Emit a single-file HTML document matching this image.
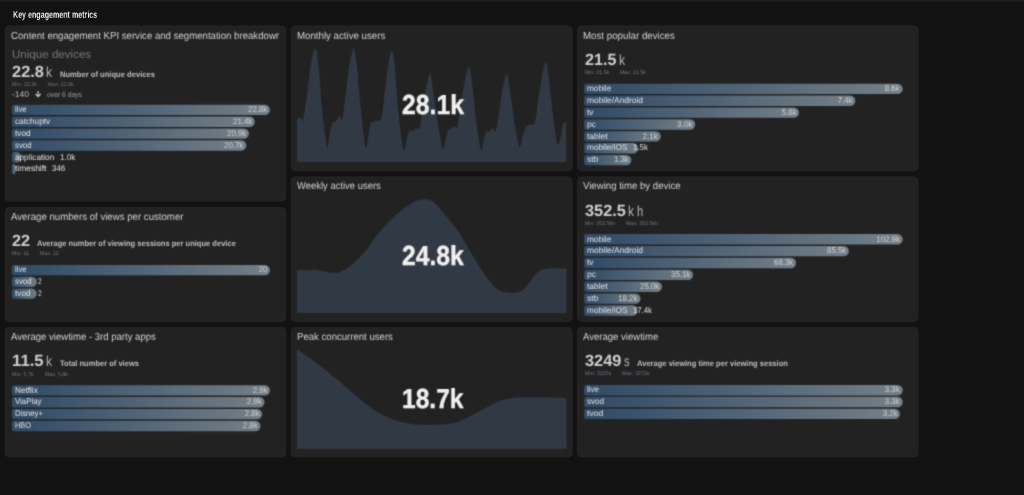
<!DOCTYPE html>
<html><head><meta charset="utf-8"><title>Key engagement metrics</title>
<style>
html,body{margin:0;padding:0}
body{width:1024px;height:495px;background:#121212;position:relative;overflow:hidden;font-family:"Liberation Sans",sans-serif}
#root{position:absolute;left:0;top:0;width:1024px;height:495px;will-change:transform;filter:url(#soft)}
.top{position:absolute;left:0;top:0;width:1024px;height:1.9px;background:#1d2229}
.card{position:absolute;background:#222222;border-radius:5px}
.t{position:absolute;white-space:nowrap;display:inline-block;text-rendering:geometricPrecision}
.bar{position:absolute;background:linear-gradient(90deg,#324d68 0%,#324d68 4%,#747f87 100%);border-radius:2px 5.2px 5.2px 2px}
</style></head><body>
<svg width="0" height="0" style="position:absolute"><filter id="soft" x="0" y="0" width="100%" height="100%" color-interpolation-filters="sRGB"><feConvolveMatrix order="3" kernelMatrix="0.0324 0.1152 0.0324 0.1152 0.4096 0.1152 0.0324 0.1152 0.0324" edgeMode="duplicate" preserveAlpha="true"/></filter></svg>
<div id="root"><div class="top"></div>
<svg style="position:absolute;left:0;top:0" width="1024" height="495" viewBox="0 0 1024 495"><defs><linearGradient id="bg" x1="0" y1="0" x2="1" y2="0"><stop offset="0" stop-color="#324d68"/><stop offset="0.04" stop-color="#324d68"/><stop offset="1" stop-color="#747f87"/></linearGradient></defs><rect x="4.5" y="24.9" width="282.10" height="177.00" rx="5.2" fill="#222222"/><rect x="4.5" y="206.7" width="282.10" height="115.50" rx="5.2" fill="#222222"/><rect x="4.5" y="326.6" width="282.10" height="131.20" rx="5.2" fill="#222222"/><rect x="290.4" y="24.9" width="282.60" height="146.70" rx="5.2" fill="#222222"/><rect x="290.4" y="176.0" width="282.60" height="146.20" rx="5.2" fill="#222222"/><rect x="290.4" y="326.6" width="282.60" height="131.20" rx="5.2" fill="#222222"/><rect x="576.7" y="24.9" width="342.30" height="146.70" rx="5.2" fill="#222222"/><rect x="576.7" y="176.0" width="342.30" height="146.20" rx="5.2" fill="#222222"/><rect x="576.7" y="326.6" width="342.30" height="131.20" rx="5.2" fill="#222222"/><path fill="url(#bg)" d="M14.20,104.70H264.80A5.20,5.20 0 0 1 264.80,115.10H14.20A2.30,2.30 0 0 1 11.90,112.80V107.00A2.30,2.30 0 0 1 14.20,104.70Z"/><path fill="url(#bg)" d="M14.20,116.55H249.60A5.20,5.20 0 0 1 249.60,126.95H14.20A2.30,2.30 0 0 1 11.90,124.65V118.85A2.30,2.30 0 0 1 14.20,116.55Z"/><path fill="url(#bg)" d="M14.20,128.40H243.80A5.20,5.20 0 0 1 243.80,138.80H14.20A2.30,2.30 0 0 1 11.90,136.50V130.70A2.30,2.30 0 0 1 14.20,128.40Z"/><path fill="url(#bg)" d="M14.20,140.25H241.20A5.20,5.20 0 0 1 241.20,150.65H14.20A2.30,2.30 0 0 1 11.90,148.35V142.55A2.30,2.30 0 0 1 14.20,140.25Z"/><path fill="url(#bg)" d="M14.20,152.10H16.30A5.20,5.20 0 0 1 16.30,162.50H14.20A2.30,2.30 0 0 1 11.90,160.20V154.40A2.30,2.30 0 0 1 14.20,152.10Z"/><path fill="url(#bg)" d="M13.70,163.95H13.70A1.80,5.20 0 0 1 13.70,174.35H13.70A1.80,1.80 0 0 1 11.90,172.55V165.75A1.80,1.80 0 0 1 13.70,163.95Z"/><path fill="url(#bg)" d="M14.20,264.90H264.80A5.20,5.20 0 0 1 264.80,275.30H14.20A2.30,2.30 0 0 1 11.90,273.00V267.20A2.30,2.30 0 0 1 14.20,264.90Z"/><path fill="url(#bg)" d="M14.20,276.65H31.70A5.20,5.20 0 0 1 31.70,287.05H14.20A2.30,2.30 0 0 1 11.90,284.75V278.95A2.30,2.30 0 0 1 14.20,276.65Z"/><path fill="url(#bg)" d="M14.20,288.40H31.50A5.20,5.20 0 0 1 31.50,298.80H14.20A2.30,2.30 0 0 1 11.90,296.50V290.70A2.30,2.30 0 0 1 14.20,288.40Z"/><path fill="url(#bg)" d="M14.20,385.20H264.80A5.20,5.20 0 0 1 264.80,395.60H14.20A2.30,2.30 0 0 1 11.90,393.30V387.50A2.30,2.30 0 0 1 14.20,385.20Z"/><path fill="url(#bg)" d="M14.20,397.05H259.30A5.20,5.20 0 0 1 259.30,407.45H14.20A2.30,2.30 0 0 1 11.90,405.15V399.35A2.30,2.30 0 0 1 14.20,397.05Z"/><path fill="url(#bg)" d="M14.20,408.90H257.00A5.20,5.20 0 0 1 257.00,419.30H14.20A2.30,2.30 0 0 1 11.90,417.00V411.20A2.30,2.30 0 0 1 14.20,408.90Z"/><path fill="url(#bg)" d="M14.20,420.75H255.30A5.20,5.20 0 0 1 255.30,431.15H14.20A2.30,2.30 0 0 1 11.90,428.85V423.05A2.30,2.30 0 0 1 14.20,420.75Z"/><path fill="url(#bg)" d="M586.40,83.70H897.60A5.20,5.20 0 0 1 897.60,94.10H586.40A2.30,2.30 0 0 1 584.10,91.80V86.00A2.30,2.30 0 0 1 586.40,83.70Z"/><path fill="url(#bg)" d="M586.40,95.57H850.20A5.20,5.20 0 0 1 850.20,105.97H586.40A2.30,2.30 0 0 1 584.10,103.67V97.87A2.30,2.30 0 0 1 586.40,95.57Z"/><path fill="url(#bg)" d="M586.40,107.44H793.80A5.20,5.20 0 0 1 793.80,117.84H586.40A2.30,2.30 0 0 1 584.10,115.54V109.74A2.30,2.30 0 0 1 586.40,107.44Z"/><path fill="url(#bg)" d="M586.40,119.31H690.00A5.20,5.20 0 0 1 690.00,129.71H586.40A2.30,2.30 0 0 1 584.10,127.41V121.61A2.30,2.30 0 0 1 586.40,119.31Z"/><path fill="url(#bg)" d="M586.40,131.18H655.60A5.20,5.20 0 0 1 655.60,141.58H586.40A2.30,2.30 0 0 1 584.10,139.28V133.48A2.30,2.30 0 0 1 586.40,131.18Z"/><path fill="url(#bg)" d="M586.40,143.05H633.00A5.20,5.20 0 0 1 633.00,153.45H586.40A2.30,2.30 0 0 1 584.10,151.15V145.35A2.30,2.30 0 0 1 586.40,143.05Z"/><path fill="url(#bg)" d="M586.40,154.92H626.20A5.20,5.20 0 0 1 626.20,165.32H586.40A2.30,2.30 0 0 1 584.10,163.02V157.22A2.30,2.30 0 0 1 586.40,154.92Z"/><path fill="url(#bg)" d="M586.40,234.10H897.60A5.20,5.20 0 0 1 897.60,244.50H586.40A2.30,2.30 0 0 1 584.10,242.20V236.40A2.30,2.30 0 0 1 586.40,234.10Z"/><path fill="url(#bg)" d="M586.40,245.97H843.70A5.20,5.20 0 0 1 843.70,256.37H586.40A2.30,2.30 0 0 1 584.10,254.07V248.27A2.30,2.30 0 0 1 586.40,245.97Z"/><path fill="url(#bg)" d="M586.40,257.84H790.90A5.20,5.20 0 0 1 790.90,268.24H586.40A2.30,2.30 0 0 1 584.10,265.94V260.14A2.30,2.30 0 0 1 586.40,257.84Z"/><path fill="url(#bg)" d="M586.40,269.71H687.90A5.20,5.20 0 0 1 687.90,280.11H586.40A2.30,2.30 0 0 1 584.10,277.81V272.01A2.30,2.30 0 0 1 586.40,269.71Z"/><path fill="url(#bg)" d="M586.40,281.58H656.80A5.20,5.20 0 0 1 656.80,291.98H586.40A2.30,2.30 0 0 1 584.10,289.68V283.88A2.30,2.30 0 0 1 586.40,281.58Z"/><path fill="url(#bg)" d="M586.40,293.45H635.30A5.20,5.20 0 0 1 635.30,303.85H586.40A2.30,2.30 0 0 1 584.10,301.55V295.75A2.30,2.30 0 0 1 586.40,293.45Z"/><path fill="url(#bg)" d="M586.40,305.32H632.50A5.20,5.20 0 0 1 632.50,315.72H586.40A2.30,2.30 0 0 1 584.10,313.42V307.62A2.30,2.30 0 0 1 586.40,305.32Z"/><path fill="url(#bg)" d="M586.40,385.00H897.60A5.20,5.20 0 0 1 897.60,395.40H586.40A2.30,2.30 0 0 1 584.10,393.10V387.30A2.30,2.30 0 0 1 586.40,385.00Z"/><path fill="url(#bg)" d="M586.40,396.85H897.60A5.20,5.20 0 0 1 897.60,407.25H586.40A2.30,2.30 0 0 1 584.10,404.95V399.15A2.30,2.30 0 0 1 586.40,396.85Z"/><path fill="url(#bg)" d="M586.40,408.70H894.80A5.20,5.20 0 0 1 894.80,419.10H586.40A2.30,2.30 0 0 1 584.10,416.80V411.00A2.30,2.30 0 0 1 586.40,408.70Z"/><path d="M297.0,162.1 L297.0,118.9 C297.3,118.7 298.3,117.5 299.1,117.4 C299.8,117.3 300.9,117.8 301.5,118.3 C302.2,118.9 302.2,124.2 303.0,120.8 C303.9,117.3 305.4,107.1 306.7,97.7 C308.0,88.3 309.4,72.6 310.9,64.4 C312.4,56.2 314.2,47.0 315.6,48.5 C317.0,50.0 318.2,63.8 319.2,73.5 C320.3,83.2 320.6,95.7 321.7,106.8 C322.8,117.9 324.8,133.3 325.8,140.2 C326.7,147.0 327.0,148.2 327.6,147.7 C328.2,147.2 328.7,140.9 329.4,137.1 C330.1,133.3 331.2,127.5 331.8,125.0 C332.5,122.5 332.7,122.5 333.3,122.0 C333.9,121.5 334.7,122.7 335.5,122.0 C336.2,121.2 337.2,118.4 337.9,117.4 C338.5,116.4 338.9,115.8 339.4,115.9 C339.9,116.1 340.4,117.8 340.9,118.3 C341.4,118.8 341.8,121.4 342.4,118.9 C343.0,116.5 343.4,112.4 344.5,103.8 C345.7,95.2 347.8,75.9 349.1,67.4 C350.4,58.9 351.3,56.0 352.1,52.9 C352.9,49.7 353.3,46.6 354.0,48.5 C354.8,50.4 355.6,55.2 356.7,64.4 C357.7,73.6 359.0,91.2 360.3,103.8 C361.6,116.4 363.3,132.8 364.2,140.2 C365.2,147.5 365.4,148.2 366.1,147.7 C366.7,147.2 367.5,140.9 368.2,137.1 C368.9,133.3 369.7,127.5 370.3,125.0 C370.9,122.5 371.2,122.4 371.8,122.0 C372.4,121.6 373.2,122.8 373.9,122.6 C374.7,122.3 375.6,120.8 376.4,120.5 C377.1,120.2 377.7,121.0 378.5,120.8 C379.2,120.5 380.3,120.3 380.9,118.9 C381.6,117.6 381.7,118.4 382.4,112.9 C383.2,107.3 384.3,94.7 385.5,85.6 C386.6,76.5 388.2,64.0 389.4,58.3 C390.6,52.7 391.6,50.7 392.4,51.7 C393.3,52.7 393.5,54.2 394.5,64.4 C395.6,74.6 397.2,99.7 398.5,112.9 C399.7,126.0 401.2,136.9 402.1,143.2 C403.1,149.5 403.5,151.3 404.2,150.8 C405.0,150.3 405.9,143.3 406.7,140.2 C407.4,137.0 408.0,133.3 408.8,131.7 C409.5,130.1 410.6,130.6 411.2,130.5 C411.9,130.4 412.1,131.2 412.7,131.1 C413.3,130.9 414.1,130.1 414.8,129.5 C415.6,129.0 416.6,128.0 417.3,128.0 C418.0,128.1 418.5,130.9 419.1,129.8 C419.7,128.8 419.9,127.8 420.9,122.0 C421.9,116.1 423.7,101.8 424.8,94.7 C426.0,87.6 426.9,83.1 427.9,79.5 C428.8,76.0 429.4,70.5 430.5,73.5 C431.5,76.5 432.7,88.6 434.1,97.7 C435.5,106.8 437.4,119.9 438.6,128.0 C439.9,136.1 440.9,142.7 441.7,146.2 C442.4,149.7 442.5,150.3 443.2,149.2 C443.8,148.2 444.8,143.2 445.6,140.2 C446.4,137.1 447.0,132.9 447.7,131.1 C448.4,129.2 449.1,129.5 449.8,128.9 C450.6,128.3 451.5,127.8 452.3,127.4 C453.1,127.0 454.0,126.4 454.7,126.5 C455.4,126.6 455.9,128.8 456.5,128.0 C457.1,127.3 457.5,126.5 458.3,122.0 C459.1,117.4 460.1,108.3 461.4,100.8 C462.6,93.2 464.6,82.1 465.9,76.5 C467.2,71.0 468.2,66.4 469.2,67.4 C470.3,68.4 470.9,74.0 472.0,82.6 C473.1,91.2 474.7,109.3 475.9,118.9 C477.1,128.5 478.0,134.8 478.9,140.2 C479.8,145.5 480.6,150.5 481.4,150.8 C482.1,151.0 482.8,144.7 483.5,141.7 C484.2,138.6 484.8,134.2 485.6,132.6 C486.4,130.9 487.3,131.9 488.0,131.7 C488.8,131.4 489.4,131.7 490.2,131.1 C490.9,130.5 491.6,128.3 492.3,128.0 C492.9,127.8 493.5,129.0 494.1,129.5 C494.6,130.1 495.0,132.3 495.6,131.1 C496.2,129.8 496.9,127.0 497.7,122.0 C498.6,116.9 499.8,106.6 500.8,100.8 C501.7,94.9 502.2,91.7 503.2,87.1 C504.2,82.6 505.7,73.2 506.8,73.5 C507.9,73.7 508.6,80.6 509.8,88.6 C511.1,96.7 513.0,112.9 514.4,122.0 C515.8,131.1 517.4,139.0 518.3,143.2 C519.3,147.3 519.4,147.8 520.2,146.8 C520.9,145.8 521.8,140.0 522.6,137.1 C523.4,134.2 524.2,131.5 525.0,129.5 C525.8,127.6 526.7,126.4 527.4,125.6 C528.2,124.8 528.8,125.2 529.5,125.0 C530.3,124.8 531.0,124.4 531.7,124.4 C532.3,124.4 532.8,125.9 533.5,125.0 C534.1,124.1 534.7,123.5 535.6,118.9 C536.5,114.4 537.5,105.3 538.6,97.7 C539.8,90.2 541.4,79.4 542.6,73.5 C543.8,67.6 544.9,61.8 545.9,62.3 C546.9,62.8 547.6,68.6 548.6,76.5 C549.7,84.4 551.2,100.3 552.3,109.8 C553.4,119.4 554.5,128.5 555.3,134.1 C556.1,139.6 556.6,141.5 557.1,143.2 C557.7,144.8 558.0,145.1 558.6,144.1 C559.2,143.1 560.1,140.3 560.8,137.1 C561.5,133.9 562.3,127.4 562.9,125.0 C563.5,122.6 563.8,123.0 564.4,122.6 C564.9,122.2 565.9,122.6 566.2,122.6 L566.2,162.1 Z" fill="#313a44"/><path d="M297.0,312.9 L297.0,269.9 C298.8,270.0 304.8,270.5 308.2,270.5 C311.6,270.5 314.3,269.7 317.3,269.9 C320.3,270.2 323.4,271.5 326.4,272.0 C329.4,272.5 332.7,273.2 335.5,272.9 C338.3,272.7 340.0,272.2 343.1,270.5 C346.1,268.8 349.9,266.2 353.7,262.9 C357.5,259.6 361.8,255.6 365.8,250.8 C369.8,246.0 373.9,239.2 377.9,234.1 C382.0,229.1 386.0,224.5 390.1,220.5 C394.1,216.4 398.1,213.0 402.2,209.9 C406.2,206.7 410.8,203.5 414.3,201.7 C417.9,199.9 420.9,199.6 423.4,199.3 C425.9,199.0 427.5,199.1 429.5,199.9 C431.5,200.6 433.0,201.4 435.5,203.8 C438.1,206.2 441.1,210.1 444.6,214.4 C448.2,218.7 452.7,223.8 456.8,229.6 C460.8,235.4 464.9,242.7 468.9,249.3 C472.9,255.9 477.5,263.6 481.0,269.0 C484.6,274.4 487.3,278.3 490.1,281.7 C492.9,285.2 495.2,287.8 497.7,289.6 C500.2,291.4 502.2,291.8 505.3,292.3 C508.3,292.8 513.1,292.9 515.9,292.6 C518.7,292.4 519.9,292.2 522.0,290.8 C524.0,289.4 525.7,286.9 528.0,284.2 C530.3,281.4 533.3,276.8 535.6,274.5 C537.9,272.1 539.4,270.9 541.7,269.9 C543.9,268.9 545.1,268.6 549.2,268.4 C553.4,268.2 563.7,268.6 566.5,268.7 L566.5,312.9 Z" fill="#313a44"/><path d="M297.0,448.7 L297.0,349.3 C298.8,350.6 304.3,354.1 308.2,356.9 C312.1,359.6 315.8,362.4 320.3,366.0 C324.9,369.5 330.4,373.9 335.5,378.1 C340.5,382.3 345.6,386.8 350.6,391.1 C355.7,395.4 360.7,400.1 365.8,403.9 C370.9,407.7 375.9,411.1 381.0,413.9 C386.0,416.7 391.1,418.9 396.1,420.5 C401.2,422.2 406.2,423.2 411.3,423.9 C416.3,424.6 421.4,424.7 426.4,424.8 C431.5,424.9 437.1,424.8 441.6,424.5 C446.2,424.2 449.7,424.0 453.7,423.0 C457.8,422.0 461.8,420.2 465.9,418.4 C469.9,416.6 473.9,414.2 478.0,412.1 C482.0,409.9 486.1,407.4 490.1,405.4 C494.2,403.4 498.2,401.5 502.2,400.2 C506.3,399.0 510.3,398.3 514.4,397.8 C518.4,397.3 520.9,397.2 526.5,397.2 C532.1,397.1 541.1,397.4 547.7,397.5 C554.4,397.6 563.4,397.8 566.5,397.8 L566.5,448.7 Z" fill="#313a44"/></svg>
<span class="t" style="left:12.70px;transform-origin:0 0;top:9px;font-size:10.3px;font-weight:700;line-height:13px;color:#ececec;transform:scaleX(0.6914);">Key engagement metrics</span>
<div style="position:absolute;left:11px;top:26px;width:268.2px;height:18px;overflow:hidden"><span class="t" style="left:0;top:4px;line-height:13px;font-size:10.2px;color:#d2d2d2;transform-origin:0 0;transform:scaleX(0.9447)">Content engagement KPI service and segmentation breakdown</span></div>
<span class="t" style="left:11.10px;transform-origin:0 0;top:211px;font-size:10.2px;line-height:13px;color:#d2d2d2;transform:scaleX(0.9470);">Average numbers of views per customer</span>
<span class="t" style="left:11.00px;transform-origin:0 0;top:331px;font-size:10.2px;line-height:13px;color:#d2d2d2;transform:scaleX(0.9380);">Average viewtime - 3rd party apps</span>
<span class="t" style="left:297.10px;transform-origin:0 0;top:30px;font-size:10.2px;line-height:13px;color:#d2d2d2;transform:scaleX(0.9508);">Monthly active users</span>
<span class="t" style="left:297.10px;transform-origin:0 0;top:180px;font-size:10.2px;line-height:13px;color:#d2d2d2;transform:scaleX(0.9270);">Weekly active users</span>
<span class="t" style="left:297.10px;transform-origin:0 0;top:331px;font-size:10.2px;line-height:13px;color:#d2d2d2;transform:scaleX(0.9407);">Peak concurrent users</span>
<span class="t" style="left:583.30px;transform-origin:0 0;top:30px;font-size:10.2px;line-height:13px;color:#d2d2d2;transform:scaleX(0.9545);">Most popular devices</span>
<span class="t" style="left:583.30px;transform-origin:0 0;top:180px;font-size:10.2px;line-height:13px;color:#d2d2d2;transform:scaleX(0.9434);">Viewing time by device</span>
<span class="t" style="left:583.40px;transform-origin:0 0;top:331px;font-size:10.2px;line-height:13px;color:#d2d2d2;transform:scaleX(0.9376);">Average viewtime</span>
<span class="t" style="left:12.00px;transform-origin:0 0;top:48px;font-size:11.4px;line-height:14px;color:#787878;transform:scaleX(1.0161);">Unique devices</span>
<span class="t" style="left:12.00px;transform-origin:0 0;top:62px;font-size:16.3px;font-weight:700;line-height:20px;color:#cecece;transform:scaleX(1.0087);">22.8</span>
<span class="t" style="left:46.00px;transform-origin:0 0;top:64px;font-size:14.5px;line-height:18px;color:#b6b6b6;transform:scaleX(0.8276);">k</span>
<span class="t" style="left:12.10px;transform-origin:0 0;top:231px;font-size:16.3px;font-weight:700;line-height:20px;color:#cecece;transform:scaleX(0.9983);">22</span>
<span class="t" style="left:12.40px;transform-origin:0 0;top:351px;font-size:16.3px;font-weight:700;line-height:20px;color:#cecece;transform:scaleX(1.0284);">11.5</span>
<span class="t" style="left:46.00px;transform-origin:0 0;top:353px;font-size:14.5px;line-height:18px;color:#b6b6b6;transform:scaleX(0.8276);">k</span>
<span class="t" style="left:584.80px;transform-origin:0 0;top:50px;font-size:16.3px;font-weight:700;line-height:20px;color:#cecece;transform:scaleX(0.9898);">21.5</span>
<span class="t" style="left:618.90px;transform-origin:0 0;top:52px;font-size:14.5px;line-height:18px;color:#b6b6b6;transform:scaleX(0.8414);">k</span>
<span class="t" style="left:584.80px;transform-origin:0 0;top:201px;font-size:16.3px;font-weight:700;line-height:20px;color:#cecece;transform:scaleX(1.0051);">352.5</span>
<span class="t" style="left:628.00px;transform-origin:0 0;top:203px;font-size:14.5px;line-height:18px;color:#b6b6b6;transform:scaleX(0.8276);">k</span>
<span class="t" style="left:637.00px;transform-origin:0 0;top:203px;font-size:14.5px;line-height:18px;color:#b6b6b6;transform:scaleX(0.7688);">h</span>
<span class="t" style="left:584.50px;transform-origin:0 0;top:351px;font-size:16.3px;font-weight:700;line-height:20px;color:#cecece;transform:scaleX(1.0038);">3249</span>
<span class="t" style="left:623.70px;transform-origin:0 0;top:353px;font-size:14.5px;line-height:18px;color:#b6b6b6;transform:scaleX(0.7724);">s</span>
<span class="t" style="left:60.00px;transform-origin:0 0;top:70px;font-size:8.1px;font-weight:700;line-height:10px;color:#bfbfbf;transform:scaleX(0.9381);">Number of unique devices</span>
<span class="t" style="left:37.30px;transform-origin:0 0;top:239px;font-size:8.1px;font-weight:700;line-height:10px;color:#bfbfbf;transform:scaleX(0.9320);">Average number of viewing sessions per unique device</span>
<span class="t" style="left:60.00px;transform-origin:0 0;top:359px;font-size:8.1px;font-weight:700;line-height:10px;color:#bfbfbf;transform:scaleX(0.9304);">Total number of views</span>
<span class="t" style="left:637.20px;transform-origin:0 0;top:359px;font-size:8.1px;font-weight:700;line-height:10px;color:#bfbfbf;transform:scaleX(0.9335);">Average viewing time per viewing session</span>
<span class="t" style="left:12.00px;transform-origin:0 0;top:82px;font-size:5.3px;line-height:7px;color:#6a7b8f;transform:scaleX(1.0225);">Min: 22.2k</span>
<span class="t" style="left:47.50px;transform-origin:0 0;top:82px;font-size:5.3px;line-height:7px;color:#6a7b8f;transform:scaleX(0.9837);">Max: 22.8k</span>
<span class="t" style="left:12.10px;transform-origin:0 0;top:251px;font-size:5.3px;line-height:7px;color:#6a7b8f;transform:scaleX(1.0008);">Min: 11</span>
<span class="t" style="left:40.20px;transform-origin:0 0;top:251px;font-size:5.3px;line-height:7px;color:#6a7b8f;transform:scaleX(0.9972);">Max: 12</span>
<span class="t" style="left:12.40px;transform-origin:0 0;top:372px;font-size:5.3px;line-height:7px;color:#6a7b8f;transform:scaleX(0.9999);">Min: 5.7k</span>
<span class="t" style="left:44.60px;transform-origin:0 0;top:372px;font-size:5.3px;line-height:7px;color:#6a7b8f;transform:scaleX(0.9967);">Max: 5.8k</span>
<span class="t" style="left:584.80px;transform-origin:0 0;top:70px;font-size:5.3px;line-height:7px;color:#6a7b8f;transform:scaleX(0.9898);">Min: 21.5k</span>
<span class="t" style="left:620.20px;transform-origin:0 0;top:70px;font-size:5.3px;line-height:7px;color:#6a7b8f;transform:scaleX(0.9914);">Max: 21.5k</span>
<span class="t" style="left:584.80px;transform-origin:0 0;top:221px;font-size:5.3px;line-height:7px;color:#6a7b8f;transform:scaleX(0.9886);">Min: 352.5kh</span>
<span class="t" style="left:626.10px;transform-origin:0 0;top:221px;font-size:5.3px;line-height:7px;color:#6a7b8f;transform:scaleX(1.0026);">Max: 352.5kh</span>
<span class="t" style="left:584.50px;transform-origin:0 0;top:371px;font-size:5.3px;line-height:7px;color:#6a7b8f;transform:scaleX(1.0144);">Min: 3230s</span>
<span class="t" style="left:621.90px;transform-origin:0 0;top:371px;font-size:5.3px;line-height:7px;color:#6a7b8f;transform:scaleX(0.9964);">Max: 3272s</span>
<span class="t" style="left:12.00px;transform-origin:0 0;top:90px;font-size:8.2px;line-height:10px;color:#bebebe;transform:scaleX(1.0358);">-140</span>
<svg style="position:absolute;left:0;top:0" width="60" height="110" viewBox="0 0 60 110"><path d="M38.1 91.1V96.4M35.5 93.9L38.1 96.7L40.7 93.9" fill="none" stroke="#cacaca" stroke-width="1.2"/></svg>
<span class="t" style="left:47.00px;transform-origin:0 0;top:90px;font-size:7.6px;line-height:10px;color:#9c9c9c;transform:scaleX(0.8909);">over 6 days</span>
<span class="t" style="left:14.60px;transform-origin:0 0;top:104px;font-size:8.3px;line-height:10px;color:#e4e4e4;transform:scaleX(0.9314);">live</span>
<span class="t" style="right:756.80px;transform-origin:100% 0;top:104px;font-size:8.3px;line-height:10px;color:#d4d4d4;transform:scaleX(0.9505);">22.8k</span>
<span class="t" style="left:14.60px;transform-origin:0 0;top:116px;font-size:8.3px;line-height:10px;color:#e4e4e4;transform:scaleX(0.9880);">catchuptv</span>
<span class="t" style="right:772.00px;transform-origin:100% 0;top:116px;font-size:8.3px;line-height:10px;color:#d4d4d4;transform:scaleX(0.9500);">21.4k</span>
<span class="t" style="left:14.60px;transform-origin:0 0;top:128px;font-size:8.3px;line-height:10px;color:#e4e4e4;transform:scaleX(1.0008);">tvod</span>
<span class="t" style="right:777.80px;transform-origin:100% 0;top:128px;font-size:8.3px;line-height:10px;color:#d4d4d4;transform:scaleX(0.9500);">20.9k</span>
<span class="t" style="left:14.60px;transform-origin:0 0;top:140px;font-size:8.3px;line-height:10px;color:#e4e4e4;transform:scaleX(0.9411);">svod</span>
<span class="t" style="right:780.40px;transform-origin:100% 0;top:140px;font-size:8.3px;line-height:10px;color:#d4d4d4;transform:scaleX(0.9500);">20.7k</span>
<span class="t" style="left:14.60px;transform-origin:0 0;top:152px;font-size:8.3px;line-height:10px;color:#e4e4e4;transform:scaleX(0.9878);">application</span>
<span class="t" style="left:59.60px;transform-origin:0 0;top:152px;font-size:8.3px;line-height:10px;color:#e4e4e4;transform:scaleX(0.9753);">1.0k</span>
<span class="t" style="left:14.60px;transform-origin:0 0;top:163px;font-size:8.3px;line-height:10px;color:#e4e4e4;transform:scaleX(1.0161);">timeshift</span>
<span class="t" style="left:51.90px;transform-origin:0 0;top:163px;font-size:8.3px;line-height:10px;color:#e4e4e4;transform:scaleX(0.9532);">346</span>
<span class="t" style="left:14.60px;transform-origin:0 0;top:264px;font-size:8.3px;line-height:10px;color:#e4e4e4;transform:scaleX(0.9314);">live</span>
<span class="t" style="right:756.80px;transform-origin:100% 0;top:264px;font-size:8.3px;line-height:10px;color:#d4d4d4;transform:scaleX(0.9099);">20</span>
<span class="t" style="left:14.60px;transform-origin:0 0;top:276px;font-size:8.3px;line-height:10px;color:#e4e4e4;transform:scaleX(0.9411);">svod</span>
<span class="t" style="left:37.50px;transform-origin:0 0;top:276px;font-size:8.3px;line-height:10px;color:#e4e4e4;transform:scaleX(0.7799);">2</span>
<span class="t" style="left:14.60px;transform-origin:0 0;top:288px;font-size:8.3px;line-height:10px;color:#e4e4e4;transform:scaleX(1.0008);">tvod</span>
<span class="t" style="left:37.50px;transform-origin:0 0;top:288px;font-size:8.3px;line-height:10px;color:#e4e4e4;transform:scaleX(0.7799);">2</span>
<span class="t" style="left:14.60px;transform-origin:0 0;top:385px;font-size:8.3px;line-height:10px;color:#e4e4e4;transform:scaleX(0.9887);">Netflix</span>
<span class="t" style="right:756.80px;transform-origin:100% 0;top:385px;font-size:8.3px;line-height:10px;color:#d4d4d4;transform:scaleX(0.9500);">2.9k</span>
<span class="t" style="left:14.60px;transform-origin:0 0;top:396px;font-size:8.3px;line-height:10px;color:#e4e4e4;transform:scaleX(0.9431);">ViaPlay</span>
<span class="t" style="right:762.30px;transform-origin:100% 0;top:396px;font-size:8.3px;line-height:10px;color:#d4d4d4;transform:scaleX(0.9500);">2.9k</span>
<span class="t" style="left:14.60px;transform-origin:0 0;top:408px;font-size:8.3px;line-height:10px;color:#e4e4e4;transform:scaleX(0.9233);">Disney+</span>
<span class="t" style="right:764.60px;transform-origin:100% 0;top:408px;font-size:8.3px;line-height:10px;color:#d4d4d4;transform:scaleX(0.9500);">2.8k</span>
<span class="t" style="left:14.60px;transform-origin:0 0;top:420px;font-size:8.3px;line-height:10px;color:#e4e4e4;transform:scaleX(0.8840);">HBO</span>
<span class="t" style="right:766.30px;transform-origin:100% 0;top:420px;font-size:8.3px;line-height:10px;color:#d4d4d4;transform:scaleX(0.9500);">2.8k</span>
<span class="t" style="left:586.80px;transform-origin:0 0;top:83px;font-size:8.3px;line-height:10px;color:#e4e4e4;transform:scaleX(0.9938);">mobile</span>
<span class="t" style="right:124.00px;transform-origin:100% 0;top:83px;font-size:8.3px;line-height:10px;color:#d4d4d4;transform:scaleX(0.9500);">8.6k</span>
<span class="t" style="left:586.80px;transform-origin:0 0;top:95px;font-size:8.3px;line-height:10px;color:#e4e4e4;transform:scaleX(1.0115);">mobile/Android</span>
<span class="t" style="right:171.40px;transform-origin:100% 0;top:95px;font-size:8.3px;line-height:10px;color:#d4d4d4;transform:scaleX(0.9500);">7.4k</span>
<span class="t" style="left:586.80px;transform-origin:0 0;top:107px;font-size:8.3px;line-height:10px;color:#e4e4e4;transform:scaleX(1.0223);">tv</span>
<span class="t" style="right:227.80px;transform-origin:100% 0;top:107px;font-size:8.3px;line-height:10px;color:#d4d4d4;transform:scaleX(0.9500);">5.8k</span>
<span class="t" style="left:586.80px;transform-origin:0 0;top:119px;font-size:8.3px;line-height:10px;color:#e4e4e4;transform:scaleX(1.0381);">pc</span>
<span class="t" style="right:331.60px;transform-origin:100% 0;top:119px;font-size:8.3px;line-height:10px;color:#d4d4d4;transform:scaleX(0.9944);">3.0k</span>
<span class="t" style="left:586.80px;transform-origin:0 0;top:131px;font-size:8.3px;line-height:10px;color:#e4e4e4;transform:scaleX(1.0096);">tablet</span>
<span class="t" style="right:366.00px;transform-origin:100% 0;top:131px;font-size:8.3px;line-height:10px;color:#d4d4d4;transform:scaleX(0.9689);">2.1k</span>
<span class="t" style="left:586.80px;transform-origin:0 0;top:142px;font-size:8.3px;line-height:10px;color:#e4e4e4;transform:scaleX(0.9953);">mobile/iOS</span>
<span class="t" style="left:632.90px;transform-origin:0 0;top:142px;font-size:8.3px;line-height:10px;color:#e4e4e4;transform:scaleX(0.9434);">1.5k</span>
<span class="t" style="left:586.80px;transform-origin:0 0;top:154px;font-size:8.3px;line-height:10px;color:#e4e4e4;transform:scaleX(1.0296);">stb</span>
<span class="t" style="right:395.40px;transform-origin:100% 0;top:154px;font-size:8.3px;line-height:10px;color:#d4d4d4;transform:scaleX(0.9434);">1.3k</span>
<span class="t" style="left:586.80px;transform-origin:0 0;top:234px;font-size:8.3px;line-height:10px;color:#e4e4e4;transform:scaleX(0.9938);">mobile</span>
<span class="t" style="right:124.00px;transform-origin:100% 0;top:234px;font-size:8.3px;line-height:10px;color:#d4d4d4;transform:scaleX(0.9500);">102.9k</span>
<span class="t" style="left:586.80px;transform-origin:0 0;top:245px;font-size:8.3px;line-height:10px;color:#e4e4e4;transform:scaleX(1.0115);">mobile/Android</span>
<span class="t" style="right:177.90px;transform-origin:100% 0;top:245px;font-size:8.3px;line-height:10px;color:#d4d4d4;transform:scaleX(0.9500);">85.5k</span>
<span class="t" style="left:586.80px;transform-origin:0 0;top:257px;font-size:8.3px;line-height:10px;color:#e4e4e4;transform:scaleX(1.0223);">tv</span>
<span class="t" style="right:230.70px;transform-origin:100% 0;top:257px;font-size:8.3px;line-height:10px;color:#d4d4d4;transform:scaleX(0.9500);">68.3k</span>
<span class="t" style="left:586.80px;transform-origin:0 0;top:269px;font-size:8.3px;line-height:10px;color:#e4e4e4;transform:scaleX(1.0381);">pc</span>
<span class="t" style="right:333.70px;transform-origin:100% 0;top:269px;font-size:8.3px;line-height:10px;color:#d4d4d4;transform:scaleX(0.9505);">35.1k</span>
<span class="t" style="left:586.80px;transform-origin:0 0;top:281px;font-size:8.3px;line-height:10px;color:#e4e4e4;transform:scaleX(1.0096);">tablet</span>
<span class="t" style="right:364.80px;transform-origin:100% 0;top:281px;font-size:8.3px;line-height:10px;color:#d4d4d4;transform:scaleX(0.9505);">25.0k</span>
<span class="t" style="left:586.80px;transform-origin:0 0;top:293px;font-size:8.3px;line-height:10px;color:#e4e4e4;transform:scaleX(1.0296);">stb</span>
<span class="t" style="right:386.30px;transform-origin:100% 0;top:293px;font-size:8.3px;line-height:10px;color:#d4d4d4;transform:scaleX(0.9358);">18.2k</span>
<span class="t" style="left:586.80px;transform-origin:0 0;top:305px;font-size:8.3px;line-height:10px;color:#e4e4e4;transform:scaleX(0.9953);">mobile/iOS</span>
<span class="t" style="left:632.90px;transform-origin:0 0;top:305px;font-size:8.3px;line-height:10px;color:#e4e4e4;transform:scaleX(0.9358);">17.4k</span>
<span class="t" style="left:586.80px;transform-origin:0 0;top:384px;font-size:8.3px;line-height:10px;color:#e4e4e4;transform:scaleX(0.9716);">live</span>
<span class="t" style="right:124.00px;transform-origin:100% 0;top:384px;font-size:8.3px;line-height:10px;color:#d4d4d4;transform:scaleX(0.9500);">3.3k</span>
<span class="t" style="left:586.80px;transform-origin:0 0;top:396px;font-size:8.3px;line-height:10px;color:#e4e4e4;transform:scaleX(0.9696);">svod</span>
<span class="t" style="right:124.00px;transform-origin:100% 0;top:396px;font-size:8.3px;line-height:10px;color:#d4d4d4;transform:scaleX(0.9500);">3.3k</span>
<span class="t" style="left:586.80px;transform-origin:0 0;top:408px;font-size:8.3px;line-height:10px;color:#e4e4e4;transform:scaleX(1.0326);">tvod</span>
<span class="t" style="right:126.80px;transform-origin:100% 0;top:408px;font-size:8.3px;line-height:10px;color:#d4d4d4;transform:scaleX(0.9500);">3.2k</span>
<span class="t" style="left:401.70px;transform-origin:0 0;top:88px;font-size:27.5px;font-weight:700;line-height:33px;color:#f0f0f0;transform:scaleX(0.8995);-webkit-text-stroke:0.4px #f0f0f0;">28.1k</span>
<span class="t" style="left:401.70px;transform-origin:0 0;top:239px;font-size:27.5px;font-weight:700;line-height:33px;color:#f0f0f0;transform:scaleX(0.8980);-webkit-text-stroke:0.4px #f0f0f0;">24.8k</span>
<span class="t" style="left:402.30px;transform-origin:0 0;top:382px;font-size:27.5px;font-weight:700;line-height:33px;color:#f0f0f0;transform:scaleX(0.8937);-webkit-text-stroke:0.4px #f0f0f0;">18.7k</span>
</div></body></html>
